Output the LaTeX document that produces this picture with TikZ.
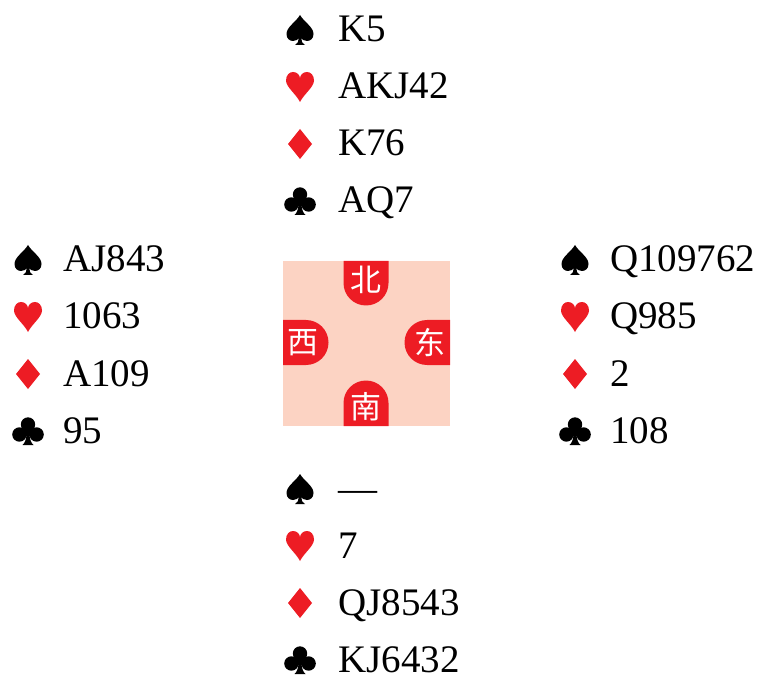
\documentclass[tikz,border=0pt]{standalone}
\usepackage{fontspec}
\setmainfont{Liberation Serif}
\newfontfamily\cjk{Noto Sans CJK SC}
\definecolor{cardred}{HTML}{ED1C24}
\definecolor{tablebg}{HTML}{FCD3C3}
\tikzset{
  spadepic/.pic={\fill[black] (0,-15) .. controls (-4,-8) and (-13.5,-3) .. (-13.5,4)
      .. controls (-13.5,9) and (-10,11) .. (-7,11) .. controls (-4,11) and (-2,9.5) .. (-1.2,8)
      .. controls (-1.2,11) and (-2.5,14) .. (-5,15) -- (5,15)
      .. controls (2.5,14) and (1.2,11) .. (1.2,8)
      .. controls (2,9.5) and (4,11) .. (7,11) .. controls (10,11) and (13.5,9) .. (13.5,4)
      .. controls (13.5,-3) and (4,-8) .. (0,-15) -- cycle;},
  heartpic/.pic={\fill[cardred] (0,15) .. controls (-4,7) and (-14,0) .. (-14,-6.5)
      .. controls (-14,-12) and (-10.5,-15) .. (-7,-15) .. controls (-3,-15) and (0,-12) .. (0,-8.5)
      .. controls (0,-12) and (3,-15) .. (7,-15) .. controls (10.5,-15) and (14,-12) .. (14,-6.5)
      .. controls (14,0) and (4,7) .. (0,15) -- cycle;},
  diamondpic/.pic={\fill[cardred] (0,-15) -- (12,0) -- (0,15) -- (-12,0) -- cycle;},
  clubpic/.pic={\fill[black] (0,-6.5) circle[radius=7.2];
    \fill[black] (-8.6,3.5) circle[radius=7.2];
    \fill[black] (8.6,3.5) circle[radius=7.2];
    \fill[black] (-4,-2) rectangle (4,5);
    \fill[black] (-1.4,0) .. controls (-1.4,8) and (-3,12) .. (-5.5,14) -- (5.5,14)
      .. controls (3,12) and (1.4,8) .. (1.4,0) -- cycle;}
}
\begin{document}
\begin{tikzpicture}[x=1pt,y=-1pt,
  holding/.style={anchor=base west,inner sep=0pt,font=\fontsize{39}{41}\selectfont},
  seat/.style={inner sep=0pt,text=white,font=\cjk\fontsize{31}{31}\selectfont}]
\useasboundingbox (0,0) rectangle (763,676);
% table
\fill[tablebg] (283,261) rectangle (450,426);
\node[inner sep=0pt,minimum size=0pt] (table) at (366.5,343.5) {};
% seat tabs
\fill[cardred] (343.5,261) -- (343.5,283) arc[start angle=180,end angle=0,radius=22.5] -- (388.5,261) -- cycle;
\fill[cardred] (343.5,426) -- (343.5,403) arc[start angle=180,end angle=360,radius=22.5] -- (388.5,426) -- cycle;
\fill[cardred] (283,320) -- (306,320) arc[start angle=-90,end angle=90,radius=22.5] -- (283,365) -- cycle;
\fill[cardred] (450,320) -- (427,320) arc[start angle=270,end angle=90,radius=22.5] -- (450,365) -- cycle;
\node[seat] (bei) at (366,280) {北};
\node[seat] (nan) at (366,407) {南};
\node[seat] (xi) at (303,343) {西};
\node[seat] (dong) at (430,343) {东};
% hands
\foreach \hand/\sx/\tx/\y/\ha/\hb/\hc/\hd in {
  N/300/338/42/K5/AKJ42/K76/AQ7,
  W/28/63/272/AJ843/1063/A109/95,
  E/575/610/272/Q109762/Q985/2/108,
  S/300/338/501/—/7/QJ8543/KJ6432}{
  \pic (\hand sp) at (\sx,\y-12) {spadepic};
  \pic (\hand he) at (\sx,\y+45) {heartpic};
  \pic (\hand di) at (\sx,\y+102) {diamondpic};
  \pic (\hand cl) at (\sx,\y+159) {clubpic};
  \node[holding] (\hand spt) at (\tx,\y) {\ha};
  \node[holding] (\hand het) at (\tx,\y+57) {\hb};
  \node[holding] (\hand dit) at (\tx,\y+114) {\hc};
  \node[holding] (\hand clt) at (\tx,\y+171) {\hd};
}
\end{tikzpicture}
\end{document}
